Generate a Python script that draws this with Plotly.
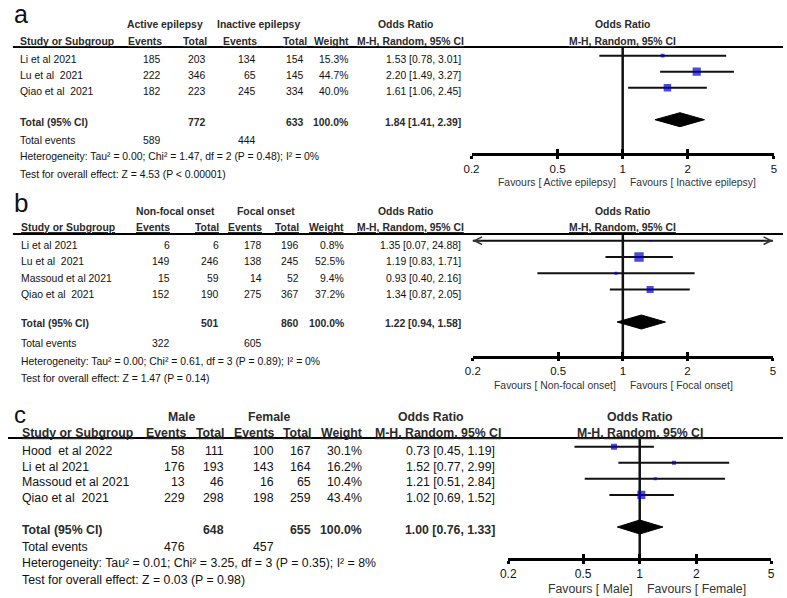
import numpy as np
import plotly.graph_objects as go

W: int = 787
H: int = 598

TICKS = [0.2, 0.5, 1, 2, 5]
NULL_OR = 1.0
TOTAL_WEIGHT = 100.0

# Panel a: Active vs Inactive epilepsy
A_GROUPS = ["Active epilepsy", "Inactive epilepsy"]
A_STUDIES = ["Li et al 2021", "Lu et al  2021", "Qiao et al  2021"]
A_EV1 = [185, 222, 182]
A_TOT1 = [203, 346, 223]
A_EV2 = [134, 65, 245]
A_TOT2 = [154, 145, 334]
A_WEIGHT = [15.3, 44.7, 40.0]
A_OR = [1.53, 2.20, 1.61]
A_LO = [0.78, 1.49, 1.06]
A_HI = [3.01, 3.27, 2.45]
A_POOLED = [1.84, 1.41, 2.39]
A_SUM_TOTAL = [772, 633]
A_SUM_EVENTS = [589, 444]
A_HET = "Heterogeneity: Tau² = 0.00; Chi² = 1.47, df = 2 (P = 0.48); I² = 0%"
A_TEST = "Test for overall effect: Z = 4.53 (P < 0.00001)"
A_FAVOURS = ["Favours [ Active epilepsy]", "Favours [ Inactive epilepsy]"]

# Panel b: Non-focal vs Focal onset
B_GROUPS = ["Non-focal onset", "Focal onset"]
B_STUDIES = ["Li et al 2021", "Lu et al  2021", "Massoud et al 2021", "Qiao et al  2021"]
B_EV1 = [6, 149, 15, 152]
B_TOT1 = [6, 246, 59, 190]
B_EV2 = [178, 138, 14, 275]
B_TOT2 = [196, 245, 52, 367]
B_WEIGHT = [0.8, 52.5, 9.4, 37.2]
B_OR = [1.35, 1.19, 0.93, 1.34]
B_LO = [0.07, 0.83, 0.40, 0.87]
B_HI = [24.88, 1.71, 2.16, 2.05]
B_POOLED = [1.22, 0.94, 1.58]
B_SUM_TOTAL = [501, 860]
B_SUM_EVENTS = [322, 605]
B_HET = "Heterogeneity: Tau² = 0.00; Chi² = 0.61, df = 3 (P = 0.89); I² = 0%"
B_TEST = "Test for overall effect: Z = 1.47 (P = 0.14)"
B_FAVOURS = ["Favours [ Non-focal onset]", "Favours [ Focal onset]"]

# Panel c: Male vs Female
C_GROUPS = ["Male", "Female"]
C_STUDIES = ["Hood  et al 2022", "Li et al 2021", "Massoud et al 2021", "Qiao et al  2021"]
C_EV1 = [58, 176, 13, 229]
C_TOT1 = [111, 193, 46, 298]
C_EV2 = [100, 143, 16, 198]
C_TOT2 = [167, 164, 65, 259]
C_WEIGHT = [30.1, 16.2, 10.4, 43.4]
C_OR = [0.73, 1.52, 1.21, 1.02]
C_LO = [0.45, 0.77, 0.51, 0.69]
C_HI = [1.19, 2.99, 2.84, 1.52]
C_POOLED = [1.00, 0.76, 1.33]
C_SUM_TOTAL = [648, 655]
C_SUM_EVENTS = [476, 457]
C_HET = "Heterogeneity: Tau² = 0.01; Chi² = 3.25, df = 3 (P = 0.35); I² = 8%"
C_TEST = "Test for overall effect: Z = 0.03 (P = 0.98)"
C_FAVOURS = ["Favours [ Male]", "Favours [ Female]"]

FONT = "Liberation Sans, Arial, sans-serif"
TXT = "#111111"
HDR = "#2b2b2b"
BLUE = "#0000C8"


def px(x):
    return x / W


def py(y):
    return 1 - y / H


def draw_panel(fig, k, label, d, g):
    xa = "x" if k == 1 else f"x{k}"
    ya = "y" if k == 1 else f"y{k}"
    fs = g["fs"]
    n = len(d["studies"])

    def txt(x, y, s, anchor="left", bold=False, size=None, color=TXT):
        fig.add_annotation(
            x=px(x), y=py(y), xref="paper", yref="paper", text=f"<b>{s}</b>" if bold else s,
            showarrow=False, xanchor=anchor, yanchor="middle",
            font=dict(family=FONT, size=size or fs, color=color),
        )

    # panel letter
    txt(g["label"][0], g["label"][1], label, size=g["label_fs"])

    # group header row
    h1, h2 = g["h1"], g["h2"]
    txt(g["grp"][0], h1, d["groups"][0], "center", True, color=HDR)
    txt(g["grp"][1], h1, d["groups"][1], "center", True, color=HDR)
    txt(g["grp"][2], h1, "Odds Ratio", "center", True, color=HDR)

    # column headers
    cr = g["hcols"]
    txt(g["left"], h2, "<u>Study or Subgroup</u>", bold=True, color=HDR)
    for x, s in zip(cr, ["Events", "Total", "Events", "Total", "Weight", "M-H, Random, 95% CI"]):
        txt(x, h2, f"<u>{s}</u>", "right", True, color=HDR)

    # study rows
    c = g["cols"]
    for i, name in enumerate(d["studies"]):
        y = g["row0"] + i * g["rstep"]
        txt(g["left"], y, name)
        txt(c[0], y, str(d["ev1"][i]), "right")
        txt(c[1], y, str(d["tot1"][i]), "right")
        txt(c[2], y, str(d["ev2"][i]), "right")
        txt(c[3], y, str(d["tot2"][i]), "right")
        txt(c[4], y, f"{d['w'][i]:.1f}%", "right")
        txt(c[5], y, f"{d['or'][i]:.2f} [{d['lo'][i]:.2f}, {d['hi'][i]:.2f}]", "right")

    # totals
    yt = g["total"]
    p = d["pooled"]
    txt(g["left"], yt, "Total (95% CI)", bold=True, color=HDR)
    txt(c[1], yt, str(d["sum_tot"][0]), "right", True, color=HDR)
    txt(c[3], yt, str(d["sum_tot"][1]), "right", True, color=HDR)
    txt(c[4], yt, f"{TOTAL_WEIGHT:.1f}%", "right", True, color=HDR)
    txt(c[5], yt, f"{p[0]:.2f} [{p[1]:.2f}, {p[2]:.2f}]", "right", True, color=HDR)
    ye = g["events"]
    txt(g["left"], ye, "Total events")
    txt(c[0], ye, str(d["sum_ev"][0]), "right")
    txt(c[2], ye, str(d["sum_ev"][1]), "right")
    txt(g["left"], g["het"], d["het"])
    txt(g["left"], g["test"], d["test"])

    # thick rule under the headers
    fig.add_shape(type="line", xref="paper", yref="paper",
                  x0=px(g["rule_x0"]), x1=1, y0=py(g["top"]), y1=py(g["top"]),
                  line=dict(color="black", width=2.2))

    # plot axes: rows in index units, OR on log scale
    step = g["pstep"]
    r_top = -(g["prow0"] - g["top"]) / step
    r_bot = (g["bottom"] - g["prow0"]) / step
    xr = [np.log10(TICKS[0]), np.log10(TICKS[-1])]
    dom_x = [px(g["px0"]), px(g["px1"])]
    dom_y = [py(g["bottom"]), py(g["top"])]
    tfont = dict(family=FONT, size=g["tick_fs"], color=TXT)
    fig.layout[f"xaxis{'' if k == 1 else k}"] = dict(
        type="log", range=xr, domain=dom_x, anchor=ya, showgrid=False, zeroline=False,
        showline=True, linecolor="black", linewidth=2.5, ticks="outside", ticklen=3,
        tickwidth=2.5, tickcolor="black", tickvals=TICKS, ticktext=[f"{t:g}" for t in TICKS],
        tickfont=tfont, fixedrange=True,
    )
    fig.layout[f"xaxis{k + 3}"] = dict(
        type="log", range=xr, overlaying=xa, anchor=ya, showgrid=False, zeroline=False,
        showline=False, ticks="inside", ticklen=4, tickwidth=2.5, tickcolor="black",
        tickvals=TICKS, showticklabels=False, fixedrange=True,
    )
    fig.layout[f"yaxis{'' if k == 1 else k}"] = dict(
        domain=dom_y, range=[r_bot, r_top], visible=False, anchor=xa, fixedrange=True,
    )

    # null line
    fig.add_trace(go.Scatter(x=[NULL_OR, NULL_OR], y=[r_top, r_bot], mode="lines",
                             line=dict(color="#111111", width=2.5), xaxis=xa, yaxis=ya,
                             hoverinfo="skip"))
    # dummy on overlay tick axis so it renders
    fig.add_trace(go.Scatter(x=[NULL_OR], y=[r_top], mode="markers", opacity=0,
                             xaxis=f"x{k + 3}", yaxis=ya, hoverinfo="skip"))

    # CI lines and squares
    for i in range(n):
        fig.add_trace(go.Scatter(x=[d["lo"][i], d["hi"][i]], y=[i, i], mode="lines",
                                 line=dict(color="#111111", width=2), xaxis=xa, yaxis=ya,
                                 hoverinfo="skip"))
        if d["lo"][i] < TICKS[0]:
            fig.add_annotation(x=np.log10(TICKS[0]), y=i, xref=xa, yref=ya, ax=10, ay=0,
                               showarrow=True, arrowhead=5, arrowsize=1, arrowwidth=1.5,
                               arrowcolor="#333333", text="")
        if d["hi"][i] > TICKS[-1]:
            fig.add_annotation(x=np.log10(TICKS[-1]), y=i, xref=xa, yref=ya, ax=-10, ay=0,
                               showarrow=True, arrowhead=5, arrowsize=1, arrowwidth=1.5,
                               arrowcolor="#333333", text="")
    fig.add_trace(go.Scatter(x=d["or"], y=list(range(n)), mode="markers",
                             marker=dict(symbol="square", color=BLUE,
                                         size=[1.5 + 0.15 * w for w in d["w"]],
                                         line=dict(width=0)),
                             xaxis=xa, yaxis=ya, hoverinfo="skip"))

    # pooled diamond
    yd = n + 1
    hh = 7 / step
    fig.add_trace(go.Scatter(x=[p[1], p[0], p[2], p[0], p[1]],
                             y=[yd, yd - hh, yd, yd + hh, yd], mode="lines", fill="toself",
                             fillcolor="black", line=dict(color="black", width=1),
                             xaxis=xa, yaxis=ya, hoverinfo="skip"))

    # plot headers
    for y, s in [(h1, "Odds Ratio"), (h2, "<u>M-H, Random, 95% CI</u>")]:
        fig.add_annotation(x=0.5, y=py(y), xref=f"{xa} domain", yref="paper", text=f"<b>{s}</b>",
                           showarrow=False, xanchor="center", yanchor="middle",
                           font=dict(family=FONT, size=fs, color=HDR))

    # favours labels
    for s, anchor, shift in [(d["fav"][0], "right", -5), (d["fav"][1], "left", 5)]:
        fig.add_annotation(x=np.log10(NULL_OR), y=py(g["fav"]), xref=xa, yref="paper", text=s,
                           showarrow=False, xanchor=anchor, yanchor="middle", xshift=shift,
                           font=dict(family=FONT, size=fs, color="#333333"))


fig = go.Figure()

panels = [
    ("a", dict(groups=A_GROUPS, studies=A_STUDIES, ev1=A_EV1, tot1=A_TOT1, ev2=A_EV2, tot2=A_TOT2,
               w=A_WEIGHT, lo=A_LO, hi=A_HI, pooled=A_POOLED, sum_tot=A_SUM_TOTAL,
               sum_ev=A_SUM_EVENTS, het=A_HET, test=A_TEST, fav=A_FAVOURS, **{"or": A_OR}),
     dict(fs=10.4, tick_fs=11.5, label=(4, 14), label_fs=25, h1=25, h2=42, left=10,
          grp=[159, 254, 404], hcols=[158, 204, 255, 306, 348, 465],
          cols=[157, 203, 254, 303, 347, 462], row0=59, rstep=16, total=123, events=141,
          het=157, test=174, rule_x0=5, top=47, bottom=153, prow0=55.7, pstep=16.0,
          px0=470.7, px1=777.7, fav=182)),
    ("b", dict(groups=B_GROUPS, studies=B_STUDIES, ev1=B_EV1, tot1=B_TOT1, ev2=B_EV2, tot2=B_TOT2,
               w=B_WEIGHT, lo=B_LO, hi=B_HI, pooled=B_POOLED, sum_tot=B_SUM_TOTAL,
               sum_ev=B_SUM_EVENTS, het=B_HET, test=B_TEST, fav=B_FAVOURS, **{"or": B_OR}),
     dict(fs=10.4, tick_fs=11.5, label=(4, 203), label_fs=26, h1=211, h2=227, left=11,
          grp=[170, 262, 404], hcols=[167, 216, 260, 298, 343, 465],
          cols=[167, 216, 260, 298, 343, 462], row0=246, rstep=16, total=323, events=344,
          het=361, test=378, rule_x0=5, top=234, bottom=355.7, prow0=240.7, pstep=16.26,
          px0=472, px1=776.7, fav=385)),
    ("c", dict(groups=C_GROUPS, studies=C_STUDIES, ev1=C_EV1, tot1=C_TOT1, ev2=C_EV2, tot2=C_TOT2,
               w=C_WEIGHT, lo=C_LO, hi=C_HI, pooled=C_POOLED, sum_tot=C_SUM_TOTAL,
               sum_ev=C_SUM_EVENTS, het=C_HET, test=C_TEST, fav=C_FAVOURS, **{"or": C_OR}),
     dict(fs=12.3, tick_fs=12, label=(4, 414), label_fs=24, h1=417, h2=433, left=12,
          grp=[176, 266, 430], hcols=[183, 221, 272, 310, 362, 503],
          cols=[182, 221, 272, 310, 362, 497], row0=451, rstep=15.7, total=530, events=547,
          het=563, test=580, rule_x0=0, top=438, bottom=558, prow0=446.7, pstep=16.06,
          px0=508, px1=775, fav=588.5)),
]

for k, (label, d, g) in enumerate(panels, start=1):
    draw_panel(fig, k, label, d, g)

fig.update_layout(
    width=W, height=H, autosize=False,
    margin=dict(l=0, r=0, t=0, b=0),
    paper_bgcolor="white", plot_bgcolor="rgba(0,0,0,0)",
    showlegend=False,
)

fig.write_html("out.html", config={"displayModeBar": False},
               post_script="document.body.style.margin='0';")
